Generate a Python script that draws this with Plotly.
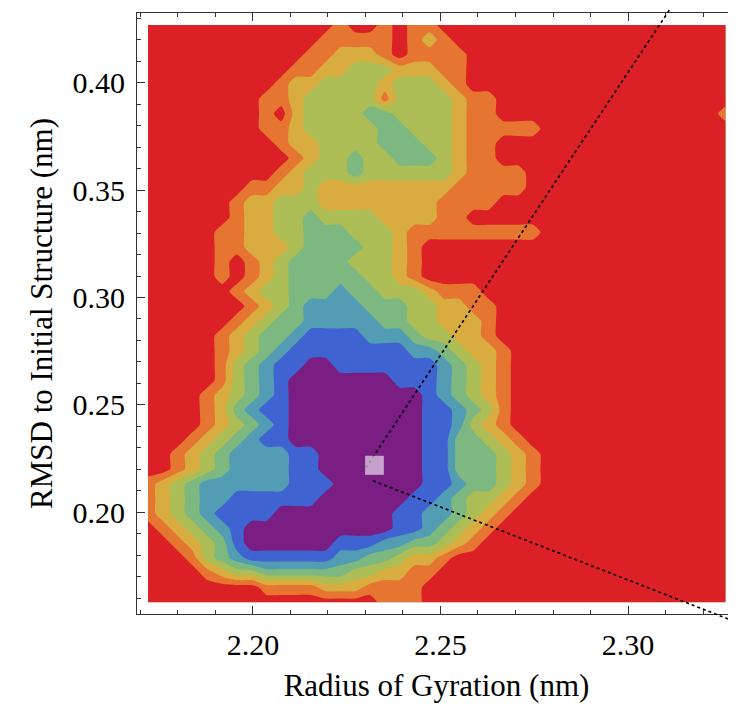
import numpy as np
import plotly.graph_objects as go

# ---- data grid (binned landscape) ----
x_lo, x_hi = 2.172, 2.326      # Radius of gyration grid extent (nm)
y_lo, y_hi = 0.158, 0.427      # RMSD grid extent (nm)
n_x, n_y = 40, 40

# level index at each grid point: 0 = lowest (purple) ... 7 = highest (red); top row first
level_rows = [
    "7777777777 7776776766 7777777777 7777777777",
    "7777777777 7766666765 6777777777 7777777777",
    "7777777777 7665556766 6677777777 7777777777",
    "7777777777 6655444555 6677777777 7777777777",
    "7777777776 5544445444 5677777777 7777777777",
    "7777777766 5444446444 4566777777 7777777777",
    "7777777767 5444433444 4566777777 7777777776",
    "7777777766 5444443344 4566666777 7777777777",
    "7777777776 5544443334 4566777777 7777777777",
    "7777777777 6544344333 4566777777 7777777777",
    "7777777776 5444344444 4566667777 7777777777",
    "7777777665 5455555555 5666667777 7777777777",
    "7777776554 4455555555 6666777777 7777777777",
    "7777776554 4344445555 6677777777 7777777777",
    "7777766554 4333444566 6666666777 7777777777",
    "7777766555 4333344567 7777777777 7777777777",
    "7777767654 3333444567 7777777777 7777777777",
    "7777767654 3333344567 7777777777 7777777777",
    "7777776544 3332334445 6667777777 7777777777",
    "7777777654 3222233344 5566777777 7777777777",
    "7777776543 3222223344 5556777777 7777777777",
    "7777765433 2111122234 4556777777 7777777777",
    "7777765432 1111111122 3455677777 7777777777",
    "7777764321 1001111111 2345677777 7777777777",
    "7777764321 0000000111 2345677777 7777777777",
    "7777654321 0000000001 2345677777 7777777777",
    "7777653211 0000000001 1234677777 7777777777",
    "7777654321 0000000001 1245677777 7777777777",
    "7776543211 0000000001 1334567777 7777777777",
    "7765432222 1100000001 1333456777 7777777777",
    "7765432222 1100000001 1333456777 7777777777",
    "6543222222 1110000001 1233456777 7777777777",
    "6543221111 1100000011 2344567777 7777777777",
    "6543211110 0000000112 2345677777 7777777777",
    "7654321000 0000000112 3456777777 7777777777",
    "7765431000 0001112233 4567777777 7777777777",
    "7776432111 1112233455 6777777777 7777777777",
    "7777654433 3333445566 7777777777 7777777777",
    "7777777766 6655566667 7777777777 7777777777",
    "7777777777 7777776667 7777777777 7777777777",
]

band_colors = ["#7B1E83", "#3F63D1", "#539DB4", "#7CB880",
               "#ADBD55", "#D9AC40", "#E77532", "#DB2125"]

x_title = "Radius of Gyration (nm)"
y_title = "RMSD to Initial Structure (nm)"
x_range = [2.16907, 2.3288]
y_range = [0.15256, 0.43256]

# zoom-inset marker (square) and its connector lines, in data units
inset_box = dict(x0=2.2299, x1=2.2349, y0=0.2174, y1=0.2263)
connector_lines = [((2.2301, 0.2207), (2.3128, 0.4386)),
                   ((2.2320, 0.21465), (2.3288, 0.14884))]

# ---- build figure ----
xs = np.linspace(x_lo, x_hi, n_x)
ys = np.linspace(y_lo, y_hi, n_y)
Z = np.array([[int(c) for c in r.replace(" ", "")] for r in level_rows][::-1])

n_lev = len(band_colors) - 1
colorscale = [[k / n_lev, c] for k, c in enumerate(band_colors)]

fig = go.Figure()
fig.add_trace(go.Contour(
    x=xs, y=ys, z=Z, colorscale=colorscale, showscale=False,
    autocontour=False,
    contours=dict(start=0.5, end=n_lev - 0.5, size=1, coloring="fill", showlines=False),
    line=dict(width=0, smoothing=0.6), hoverinfo="skip"))


def to_paper(x, y):
    return ((x - x_range[0]) / (x_range[1] - x_range[0]),
            (y - y_range[0]) / (y_range[1] - y_range[0]))


for (a, b) in connector_lines:
    p0 = to_paper(*a)
    p1 = to_paper(*b)
    fig.add_shape(type="line", xref="paper", yref="paper",
                  x0=p0[0], y0=p0[1], x1=p1[0], y1=p1[1],
                  line=dict(color="black", width=1.6, dash="dot"), layer="above")

fig.add_shape(type="rect", xref="x", yref="y", **inset_box,
              fillcolor="rgba(255,255,255,0.58)", line=dict(width=0), layer="above")

font_family = "Liberation Serif"
axis_common = dict(
    ticks="inside", ticklen=8, tickwidth=1, tickcolor="#333",
    showline=True, linecolor="#333", linewidth=1, mirror="ticks",
    showgrid=False, zeroline=False, tickformat=".2f",
    tickfont=dict(family=font_family, size=30, color="black"),
    minor=dict(ticks="inside", ticklen=4, tickwidth=1, tickcolor="#333", dtick=0.01),
)

fig.update_xaxes(range=x_range, tick0=2.2, dtick=0.05, ticklabelstandoff=4,
                 title=dict(text=x_title, font=dict(family=font_family, size=31, color="black"), standoff=14),
                 **axis_common)
fig.update_yaxes(range=y_range, tick0=0.2, dtick=0.05, ticklabelstandoff=5,
                 title=dict(text=y_title, font=dict(family=font_family, size=31, color="black"), standoff=10),
                 **axis_common)

fig.update_layout(width=736, height=707, margin=dict(l=129, r=8, t=5, b=101),
                  paper_bgcolor="white", plot_bgcolor="white", showlegend=False)

fig.write_html("out.html")
